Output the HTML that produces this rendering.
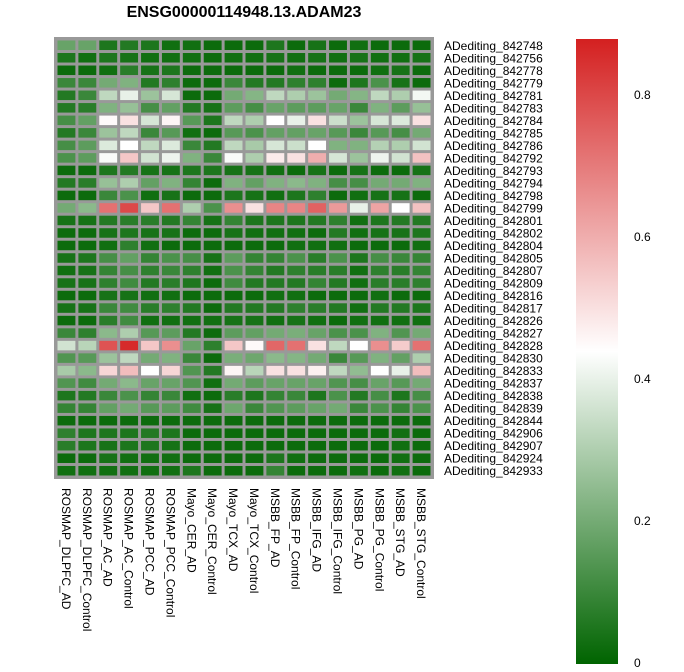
<!DOCTYPE html>
<html><head><meta charset="utf-8"><style>
body{margin:0;background:#fff;font-family:"Liberation Sans",sans-serif;}
svg text{font-family:"Liberation Sans",sans-serif;}
</style></head><body>
<svg id="chart" width="684" height="667">
<defs><linearGradient id="cb" x1="0" y1="1" x2="0" y2="0">
<stop offset="0" stop-color="#006400"/><stop offset="0.5" stop-color="#ffffff"/><stop offset="1" stop-color="#d42020"/>
</linearGradient></defs>
<text x="244" y="17" text-anchor="middle" font-size="16" font-weight="bold">ENSG00000114948.13.ADAM23</text>
<g id="cells"></g><g id="rlabels"></g><g id="clabels"></g>
<rect x="576" y="39" width="42" height="625" fill="url(#cb)"/>
<g id="cbticks"></g>
</svg>
<script>
const columns=["ROSMAP_DLPFC_AD","ROSMAP_DLPFC_Control","ROSMAP_AC_AD","ROSMAP_AC_Control","ROSMAP_PCC_AD","ROSMAP_PCC_Control","Mayo_CER_AD","Mayo_CER_Control","Mayo_TCX_AD","Mayo_TCX_Control","MSBB_FP_AD","MSBB_FP_Control","MSBB_IFG_AD","MSBB_IFG_Control","MSBB_PG_AD","MSBB_PG_Control","MSBB_STG_AD","MSBB_STG_Control"];
const rows=["842748","842756","842778","842779","842781","842783","842784","842785","842786","842792","842793","842794","842798","842799","842801","842802","842804","842805","842807","842809","842816","842817","842826","842827","842828","842830","842833","842837","842838","842839","842844","842906","842907","842924","842933"];
const values=[
[0.18,0.18,0.05,0.06,0.05,0.03,0.03,0.02,0.02,0.02,0.05,0.02,0.04,0.02,0.03,0.02,0.02,0.02],
[0.05,0.03,0.05,0.04,0.03,0.03,0.03,0.02,0.03,0.03,0.04,0.03,0.04,0.03,0.04,0.03,0.03,0.04],
[0.02,0.02,0.03,0.07,0.04,0.05,0.02,0.02,0.02,0.02,0.02,0.03,0.02,0.02,0.02,0.03,0.04,0.02],
[0.1,0.1,0.2,0.22,0.06,0.08,0.02,0.02,0.1,0.06,0.06,0.08,0.08,0.02,0.05,0.13,0.04,0.02],
[0.06,0.1,0.33,0.4,0.27,0.37,0.02,0.02,0.2,0.23,0.33,0.3,0.27,0.2,0.23,0.33,0.3,0.42],
[0.06,0.07,0.22,0.26,0.12,0.17,0.06,0.04,0.16,0.12,0.18,0.16,0.16,0.18,0.1,0.22,0.16,0.26],
[0.12,0.17,0.45,0.5,0.37,0.46,0.15,0.05,0.33,0.3,0.44,0.4,0.5,0.35,0.27,0.37,0.38,0.5],
[0.06,0.1,0.27,0.33,0.1,0.15,0.03,0.02,0.15,0.13,0.17,0.17,0.18,0.15,0.1,0.15,0.12,0.2],
[0.12,0.16,0.38,0.44,0.33,0.38,0.1,0.06,0.33,0.29,0.37,0.35,0.44,0.22,0.22,0.31,0.3,0.36],
[0.13,0.16,0.43,0.55,0.36,0.41,0.22,0.1,0.43,0.3,0.48,0.5,0.6,0.37,0.27,0.41,0.36,0.56],
[0.02,0.02,0.05,0.06,0.04,0.04,0.05,0.05,0.04,0.04,0.03,0.02,0.04,0.02,0.04,0.02,0.02,0.04],
[0.06,0.07,0.26,0.3,0.17,0.22,0.09,0.02,0.22,0.17,0.22,0.24,0.22,0.12,0.12,0.2,0.2,0.22],
[0.02,0.02,0.1,0.13,0.03,0.04,0.02,0.02,0.05,0.04,0.03,0.05,0.08,0.02,0.03,0.04,0.04,0.02],
[0.2,0.24,0.72,0.8,0.55,0.72,0.3,0.13,0.66,0.5,0.68,0.68,0.75,0.64,0.4,0.62,0.44,0.56],
[0.04,0.04,0.06,0.07,0.07,0.06,0.09,0.04,0.09,0.05,0.05,0.05,0.06,0.08,0.03,0.05,0.06,0.06],
[0.02,0.02,0.04,0.05,0.04,0.04,0.02,0.02,0.04,0.03,0.03,0.03,0.02,0.06,0.03,0.04,0.04,0.05],
[0.02,0.02,0.03,0.08,0.03,0.02,0.02,0.02,0.02,0.02,0.02,0.03,0.03,0.03,0.02,0.02,0.02,0.03],
[0.04,0.05,0.12,0.17,0.09,0.13,0.12,0.04,0.16,0.09,0.09,0.13,0.07,0.13,0.05,0.12,0.1,0.09],
[0.03,0.04,0.09,0.12,0.08,0.1,0.08,0.03,0.13,0.09,0.06,0.08,0.07,0.07,0.03,0.08,0.07,0.09],
[0.04,0.04,0.08,0.11,0.06,0.07,0.05,0.02,0.11,0.06,0.06,0.06,0.09,0.06,0.03,0.07,0.07,0.08],
[0.02,0.02,0.04,0.04,0.03,0.03,0.02,0.02,0.02,0.02,0.03,0.03,0.02,0.02,0.02,0.03,0.02,0.02],
[0.04,0.04,0.1,0.11,0.07,0.08,0.06,0.02,0.06,0.06,0.06,0.08,0.07,0.06,0.03,0.06,0.06,0.05],
[0.02,0.02,0.07,0.11,0.03,0.03,0.03,0.03,0.04,0.04,0.03,0.04,0.03,0.02,0.03,0.03,0.03,0.03],
[0.1,0.08,0.24,0.3,0.15,0.16,0.06,0.02,0.16,0.17,0.2,0.21,0.18,0.13,0.13,0.22,0.14,0.2],
[0.36,0.32,0.78,0.86,0.55,0.66,0.18,0.08,0.55,0.45,0.74,0.72,0.5,0.33,0.44,0.66,0.54,0.72],
[0.14,0.15,0.27,0.33,0.2,0.22,0.1,0.02,0.21,0.19,0.24,0.23,0.2,0.1,0.15,0.22,0.17,0.3],
[0.29,0.24,0.52,0.57,0.44,0.52,0.14,0.06,0.46,0.32,0.5,0.5,0.47,0.33,0.25,0.44,0.4,0.57],
[0.14,0.11,0.2,0.24,0.18,0.18,0.14,0.03,0.2,0.16,0.18,0.18,0.18,0.14,0.12,0.18,0.15,0.2],
[0.05,0.06,0.1,0.13,0.09,0.1,0.03,0.02,0.07,0.05,0.09,0.1,0.05,0.13,0.06,0.12,0.05,0.12],
[0.09,0.09,0.17,0.2,0.15,0.16,0.11,0.04,0.19,0.1,0.14,0.16,0.18,0.2,0.1,0.13,0.09,0.13],
[0.02,0.02,0.02,0.02,0.02,0.02,0.02,0.02,0.02,0.02,0.02,0.02,0.02,0.02,0.02,0.02,0.02,0.02],
[0.08,0.05,0.05,0.05,0.06,0.05,0.02,0.02,0.02,0.02,0.02,0.02,0.02,0.02,0.02,0.02,0.03,0.02],
[0.07,0.05,0.04,0.05,0.05,0.04,0.02,0.02,0.02,0.02,0.02,0.02,0.02,0.02,0.02,0.02,0.03,0.02],
[0.02,0.02,0.04,0.03,0.03,0.03,0.02,0.02,0.02,0.02,0.05,0.03,0.02,0.02,0.02,0.02,0.03,0.02],
[0.03,0.03,0.03,0.03,0.03,0.03,0.05,0.02,0.02,0.02,0.09,0.02,0.02,0.02,0.03,0.02,0.03,0.02]];
const colorTicks=[0,0.2,0.4,0.6,0.8];

const NS="http://www.w3.org/2000/svg";
const x0=56,x1=432,y0=39,y1=477;
const cw=(x1-x0)/columns.length, rh=(y1-y0)/rows.length;
const vMin=0,vMax=0.88,vMid=0.44;
function color(v){
  const g=[0,100,0],w=[255,255,255],r=[212,32,32];
  let a,b,t;
  if(v<=vMid){a=g;b=w;t=(v-vMin)/(vMid-vMin);}else{a=w;b=r;t=(v-vMid)/(vMax-vMid);}
  t=Math.max(0,Math.min(1,t));
  return `rgb(${a.map((c,i)=>Math.round(c+(b[i]-c)*t)).join(',')})`;
}
function cbY(v){return 663-v*710;}
const cells=document.getElementById('cells');
const bg=document.createElementNS(NS,'rect');
bg.setAttribute('x',x0-2);bg.setAttribute('y',y0-2);bg.setAttribute('width',x1-x0+4);bg.setAttribute('height',y1-y0+4);bg.setAttribute('fill','#999');


cells.appendChild(bg);
values.forEach((row,i)=>row.forEach((v,j)=>{
  const r=document.createElementNS(NS,'rect');
  r.setAttribute('x',x0+j*cw+1.5);r.setAttribute('y',y0+i*rh+1.5);
  r.setAttribute('width',cw-3);r.setAttribute('height',rh-3);r.setAttribute('fill',color(v));
  
  
  cells.appendChild(r);
}));
const rl=document.getElementById('rlabels');
rows.forEach((n,i)=>{
  const t=document.createElementNS(NS,'text');
  t.setAttribute('x',444);t.setAttribute('y',y0+(i+0.5)*rh+4.5);t.setAttribute('font-size','12');
  t.textContent='ADediting_'+n;
  
  
  rl.appendChild(t);
});
const cl=document.getElementById('clabels');
columns.forEach((n,j)=>{
  const t=document.createElementNS(NS,'text');
  const cx=x0+(j+0.5)*cw-4.5;
  t.setAttribute('transform',`translate(${cx},488) rotate(90)`);t.setAttribute('font-size','12');
  t.textContent=n;
  
  
  cl.appendChild(t);
});
const ct=document.getElementById('cbticks');
colorTicks.forEach(v=>{
  const t=document.createElementNS(NS,'text');
  t.setAttribute('x',634);t.setAttribute('y',cbY(v)+4);t.setAttribute('font-size','12');
  t.textContent=v===0?'0':v.toFixed(1);
  
  
  ct.appendChild(t);
});
</script>
</body></html>
